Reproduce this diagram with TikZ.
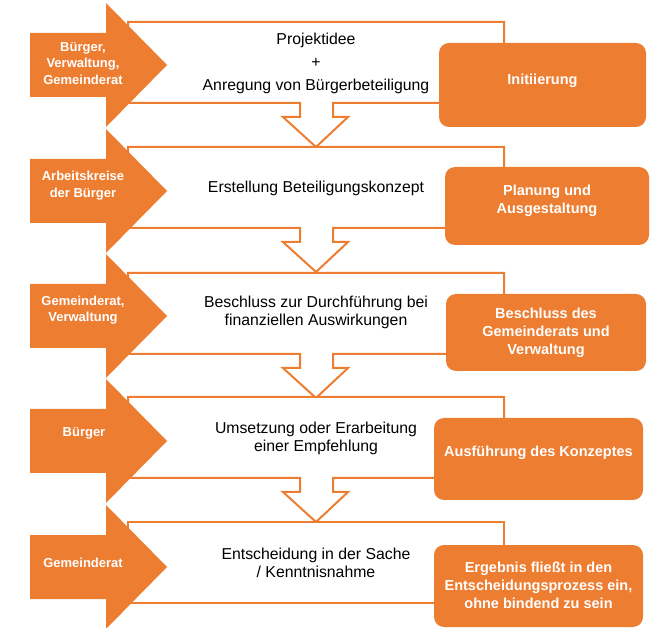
\documentclass[tikz,border=0pt]{standalone}
\usepackage{fontspec}
\setmainfont{Liberation Sans}
\definecolor{og}{HTML}{ED7D31}
\tikzset{
  outl/.style={draw=og, line width=2pt, fill=white, line join=miter},
  lab/.style={font=\fontsize{15.8}{18}\selectfont, align=center, text=black, inner sep=0},
  who/.style={font=\bfseries\fontsize{13}{16.5}\selectfont, text=white, align=center, inner sep=0},
  phasebox/.style={fill=og, rounded corners=10pt, inner sep=0},
  phasetxt/.style={font=\bfseries\fontsize{14.5}{18}\selectfont, text=white, align=center, inner sep=0},
  stage/.pic={
    \path[outl] (128,0) -- (504,0) -- (504,81) -- (333,81) -- (333,95) -- (348,95)
      -- (316,125) -- (283,95) -- (300,95) -- (300,81) -- (128,81) -- cycle;
  },
  laststage/.pic={
    \path[outl] (128,0) -- (504,0) -- (504,81) -- (128,81) -- cycle;
  },
  actor/.pic={
    \path[fill=og] (30,-32) -- (106,-32) -- (106,-62) -- (167,0) -- (106,62)
      -- (106,32) -- (30,32) -- cycle;
  }
}
\begin{document}
\begin{tikzpicture}[x=1pt,y=-1pt]
\useasboundingbox (0,0) rectangle (654,628);
\begin{scope}
\clip (0,0) rectangle (654,628);
% outlined stages
\pic at (0,22) {stage};
\pic at (0,147) {stage};
\pic at (0,273) {stage};
\pic at (0,397) {stage};
\pic at (0,522) {laststage};
% left actor arrows
\pic at (0,65) {actor};
\pic at (0,191) {actor};
\pic at (0,316) {actor};
\pic at (0,441) {actor};
\pic at (0,567) {actor};
\end{scope}
% phase boxes
\node[phasebox, minimum width=207pt, minimum height=84pt] (p1) at (542.5,85) {};
\node[phasebox, minimum width=204pt, minimum height=78pt] (p2) at (547,206) {};
\node[phasebox, minimum width=200pt, minimum height=77pt] (p3) at (546,332.5) {};
\node[phasebox, minimum width=209pt, minimum height=82pt] (p4) at (538.5,459) {};
\node[phasebox, minimum width=209pt, minimum height=82pt] (p5) at (538.5,586) {};
\node[phasetxt] (t1) at (542.5,81) {Initiierung};
\node[phasetxt] (t2) at (547,201) {Planung und\\Ausgestaltung};
\node[phasetxt] (t3) at (546,333) {Beschluss des\\Gemeinderats und\\Verwaltung};
\node[phasetxt] (t4) at (538.5,453) {Ausführung des Konzeptes};
\node[phasetxt] (t5) at (538.5,585) {Ergebnis fließt in den\\Entscheidungsprozess ein,\\ohne bindend zu sein};
% actors
\node[who] (a1) at (83,63.5) {Bürger,\\Verwaltung,\\Gemeinderat};
\node[who] (a2) at (83,185.5) {Arbeitskreise\\der Bürger};
\node[who] (a3) at (83,310) {Gemeinderat,\\Verwaltung};
\node[who] (a4) at (84,433) {Bürger};
\node[who] (a5) at (83,563) {Gemeinderat};
% stage texts
\node[lab, font=\fontsize{15.8}{23}\selectfont] (s1) at (316,63) {Projektidee\\+\\Anregung von Bürgerbeteiligung};
\node[lab] (s2) at (316,188) {Erstellung Beteiligungskonzept};
\node[lab] (s3) at (316,312) {Beschluss zur Durchführung bei\\finanziellen Auswirkungen};
\node[lab] (s4) at (316,438) {Umsetzung oder Erarbeitung\\einer Empfehlung};
\node[lab] (s5) at (316,562.5) {Entscheidung in der Sache\\/ Kenntnisnahme};
\end{tikzpicture}
\end{document}
